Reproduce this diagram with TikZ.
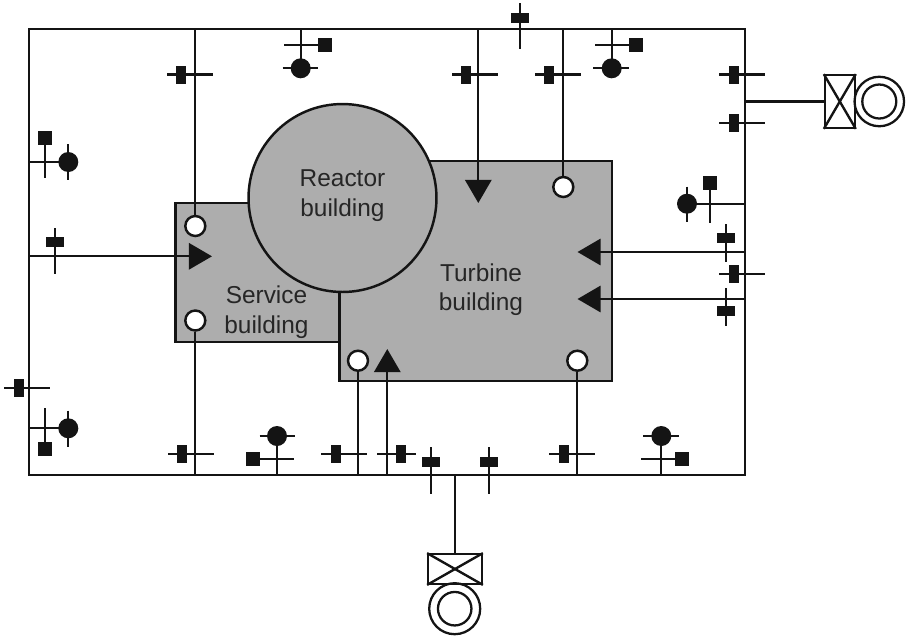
\documentclass[tikz,border=0pt]{standalone}
\usepackage{fontspec}
\setmainfont{Liberation Sans}
\usetikzlibrary{arrows.meta}
\definecolor{bldgray}{gray}{0.68}
\definecolor{inkline}{gray}{0.08}
\tikzset{
	pipe/.style={line width=1.35pt, color=inkline},
	flow/.style={pipe, -{Triangle[length=13.2pt, width=15pt, sharp]}},
	opening/.style={circle, draw=inkline, line width=1.4pt, fill=white, minimum size=0.4cm, inner sep=0pt},
	title/.style={align=center, font=\fontsize{13.9}{16.8}\selectfont, text=black!85},
	genbox/.style={draw=inkline, line width=1.3pt, fill=white, inner sep=0pt},
	ring/.style={circle, draw=inkline, line width=1.3pt, inner sep=0pt},
}
% stub across a line, bar on it: x1, x2, y, bar x
\def\htap(#1:#2:#3:#4){\draw[pipe] (#1,#3) -- (#2,#3); \fill[inkline] (#4-5,#3-9) rectangle (#4+5,#3+9);}
% y1, y2, x, bar y
\def\vtap(#1:#2:#3:#4){\draw[pipe] (#3,#1) -- (#3,#2); \fill[inkline] (#3-9,#4-5) rectangle (#3+9,#4+5);}
% disc with its tick and a small square
\def\sqr(#1,#2){\fill[inkline] (#1-7,#2-7) rectangle (#1+7,#2+7);}
\def\disc(#1,#2){\fill[inkline] (#1,#2) circle (10);}

\begin{document}
\begin{tikzpicture}[x=0.02cm, y=-0.02cm]
	%%%%% START %%%%%
	\useasboundingbox (0,0) rectangle (907,637);

	\draw[pipe, fill=bldgray] (175.5,203) rectangle (340,342);
	\draw[pipe, fill=bldgray] (339.5,161) rectangle (612,381);
	\node[circle, draw=inkline, line width=1.4pt, fill=bldgray, minimum size=3.76cm, inner sep=0pt] (reactor) at (342.5,198) {};
	\node[title] (reactorlabel) at (342.5,195.5) {Reactor\\building};
	\node[title] (servicelabel) at (266.5,312) {Service\\building};
	\node[title] (turbinelabel) at (481,289.5) {Turbine\\building};

	\draw[pipe] (29,29) rectangle (745,475);

	% frame junctions
	\coordinate (n1) at (195.3,29);
	\coordinate (n2) at (478.3,29);
	\coordinate (n3) at (563.3,29);
	\coordinate (w1) at (29,256.3);
	\coordinate (e1) at (745,252);
	\coordinate (e2) at (745,299);
	\coordinate (e3) at (745,101.5);
	\coordinate (s1) at (195.3,475);
	\coordinate (s2) at (358,475);
	\coordinate (s3) at (387.3,475);
	\coordinate (s4) at (577.3,475);
	\coordinate (s5) at (455,475);

	% arrow points
	\coordinate (a1) at (212,256.3);
	\coordinate (a2) at (478.3,203);
	\coordinate (a3) at (577.5,252);
	\coordinate (a4) at (577.5,299);
	\coordinate (a5) at (387.3,349);

	\node[opening] (o1) at (195.3,226) {};
	\node[opening] (o2) at (195.3,320.5) {};
	\node[opening] (o3) at (563.3,187) {};
	\node[opening] (o4) at (358,360.7) {};
	\node[opening] (o5) at (577.3,360.7) {};

	\draw[pipe] (n1) -- (o1);
	\draw[pipe] (s1) -- (o2);
	\draw[pipe] (n3) -- (o3);
	\draw[pipe] (s2) -- (o4);
	\draw[pipe] (s4) -- (o5);

	\draw[flow] (w1) -- (a1);
	\draw[flow] (n2) -- (a2);
	\draw[flow] (e1) -- (a3);
	\draw[flow] (e2) -- (a4);
	\draw[flow] (s3) -- (a5);

	% generators
	\node[genbox, minimum width=0.594cm, minimum height=1.05cm] (genE) at (839.8,101.5) {};
	\draw[pipe] (e3) -- (genE);
	\draw[pipe] (genE.north west) -- (genE.south east);
	\draw[pipe] (genE.south west) -- (genE.north east);
	\node[ring, minimum size=0.99cm] (genEo) at (879.3,101.5) {};
	\node[ring, minimum size=0.68cm] (genEi) at (879.3,101.5) {};

	\node[genbox, minimum width=1.07cm, minimum height=0.59cm] (genS) at (455,569) {};
	\draw[pipe] (s5) -- (genS);
	\draw[pipe] (genS.north west) -- (genS.south east);
	\draw[pipe] (genS.south west) -- (genS.north east);
	\node[ring, minimum size=1.02cm] (genSo) at (454.7,608.7) {};
	\node[ring, minimum size=0.67cm] (genSi) at (454.7,608.7) {};

	% stubs
	\htap(167:213:74.5:181)
	\htap(452:498:74.5:466)
	\htap(535:581:74.5:549)
	\htap(719:765:74.5:733.7)
	\htap(719:765:122.7:733.7)
	\htap(719:765:273.7:733.7)
	\htap(4:50:387.7:18.5)
	\htap(168:214:454.3:182)
	\htap(321:367:454.3:335.7)
	\htap(377:415.7:454.3:400.7)
	\htap(549:595:454.3:563.7)

	\vtap(3:49:520.3:17.7)
	\vtap(228:274:55:242)
	\vtap(224:262:725.7:238)
	\vtap(288:326:725.7:311)
	\vtap(447.3:494:431.3:461.7)
	\vtap(447.3:494:488.7:461.7)

	% top
	\draw[pipe] (300.7,29) -- (300.7,68);
	\draw[pipe] (284,45) -- (325,45);
	\draw[pipe] (282.7,68) -- (318,68);
	\sqr(324.7,45)
	\disc(300.7,68.3)

	\draw[pipe] (611.7,29) -- (611.7,68);
	\draw[pipe] (595,45) -- (636,45);
	\draw[pipe] (593.3,68) -- (629,68);
	\sqr(635.7,45)
	\disc(611.7,68.3)

	% left
	\draw[pipe] (29,162) -- (68,162);
	\draw[pipe] (45,138) -- (45,178);
	\draw[pipe] (68.3,144) -- (68.3,180);
	\sqr(45,138)
	\disc(68.3,162)

	\draw[pipe] (29,428.3) -- (68,428.3);
	\draw[pipe] (45,408) -- (45,449);
	\draw[pipe] (68.3,410.7) -- (68.3,446.7);
	\sqr(45,449)
	\disc(68.3,428.3)

	% right
	\draw[pipe] (745,203.7) -- (687,203.7);
	\draw[pipe] (710.3,183.3) -- (710.3,223.3);
	\draw[pipe] (687,186.7) -- (687,221.7);
	\sqr(710.3,183.3)
	\disc(687,203.7)

	% bottom
	\draw[pipe] (277,475) -- (277,436);
	\draw[pipe] (253.3,459.3) -- (294,459.3);
	\draw[pipe] (259.7,436) -- (295.3,436);
	\sqr(253.3,459.3)
	\disc(277,436)

	\draw[pipe] (661.3,475) -- (661.3,436);
	\draw[pipe] (641,459.3) -- (682,459.3);
	\draw[pipe] (643,436) -- (678.7,436);
	\sqr(682,459.3)
	\disc(661.3,436)
	%%%%% END %%%%%
\end{tikzpicture}
\end{document}
